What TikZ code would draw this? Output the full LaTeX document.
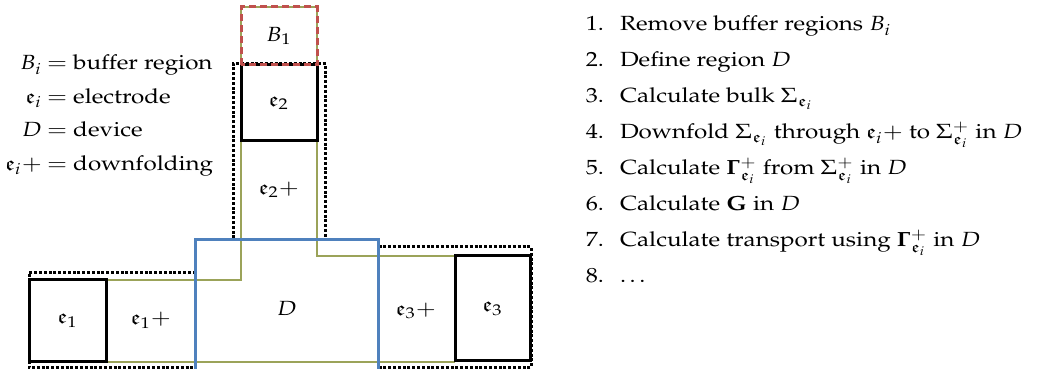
\documentclass[tikz,border=0pt]{standalone}
\usepackage[T1]{fontenc}
\usepackage{amssymb}
\usepackage{mathpazo}
\usepackage{amsmath}
\definecolor{olivec}{RGB}{155,163,89}
\definecolor{blued}{RGB}{79,129,189}
\definecolor{redb}{RGB}{192,80,77}
\newcommand{\fe}{\mathfrak{e}}
\newcommand{\sx}[1]{\scalebox{1.18}[1]{#1}}
\begin{document}
\begin{tikzpicture}[x=0.5pt,y=-0.5pt,
  every node/.style={font=\fontsize{10.25}{12}\selectfont, inner sep=0pt, outer sep=0pt},
  ebox/.style={draw=black, line width=1.5pt, minimum width=#1},
  oliveline/.style={draw=olivec, line width=0.8pt},
  dotline/.style={draw=black, line width=1.5pt, dash pattern=on 1.5pt off 0.9pt},
  redline/.style={draw=redb, line width=1.5pt, dash pattern=on 3.5pt off 2pt},
  devbox/.style={draw=blued, line width=1.5pt},
  lbl/.style={anchor=base west},
  num/.style={anchor=base east}]
\useasboundingbox (0,0) rectangle (1041,369);
% boxes (geometry)
\node[minimum width=38pt, minimum height=29pt] (B1) at (279,36) {\sx{$B_1$}};
\node[ebox=38pt, minimum height=38pt] (e2) at (279,103) {\sx{$\fe_2$}};
\node[ebox=38.25pt, minimum height=41pt] (e1) at (67.75,321) {\sx{$\fe_1$}};
\node[ebox=37.75pt, minimum height=52.5pt] (e3) at (492.75,308.5) {\sx{$\fe_3$}};
% olive downfolding outline
\draw[oliveline] (e1.north east) -- (e1.north east -| B1.west) -- (B1.north west)
  -- (B1.north east) -- (B1.east |- e3.north west) -- (e3.north west);
\draw[oliveline] (e1.south east) -- (e1.south east -| e3.west);
% dotted regions
\node[minimum width=91.5pt, minimum height=68.5pt] (D) at (287,308.5) {\sx{$D$}};
\draw[dotline] (D.west |- 0,273) -- (29,273) -- (29,367.5) -- (D.west |- 0,367.5);
\draw[dotline] (233,238.5) -- (233,64) -- (325.5,64) -- (325.5,238.5);
\draw[dotline] (D.east |- 0,247) -- (531,247) -- (531,367.5) -- (D.east |- 0,367.5);
% redraw electrode boxes on top
\draw[ebox=0pt] (e1.south west) rectangle (e1.north east);
\draw[ebox=0pt] (e2.south west) rectangle (e2.north east);
\draw[ebox=0pt] (e3.south west) rectangle (e3.north east);
\draw[devbox] (D.south west) rectangle (D.north east);
\draw[redline] (B1.south west) rectangle (B1.north east);
% downfolding labels
\node (e1p) at (151,320) {\sx{$\fe_1+$}};
\node (e2p) at (279,190) {\sx{$\fe_2+$}};
\node (e3p) at (416,311) {\sx{$\fe_3+$}};
% legend
\node[num] (l1a) at (42,70) {\sx{$B_i$}};
\node[lbl] (l1b) at (47,70) {\sx{$=$ buffer region}};
\node[num] (l2a) at (42,103.5) {\sx{$\fe_i$}};
\node[lbl] (l2b) at (47,103.5) {\sx{$=$ electrode}};
\node[num] (l3a) at (42,137) {\sx{$D$}};
\node[lbl] (l3b) at (47,137) {\sx{$=$ device}};
\node[num] (l4a) at (42,170.5) {\sx{$\fe_i+$}};
\node[lbl] (l4b) at (47,170.5) {\sx{$=$ downfolding}};
% steps
\node[num] (n1) at (604,31) {\sx{1.}};
\node[lbl] (s1) at (620,31) {\sx{Remove buffer regions $B_i$}};
\node[num] (n2) at (604,67) {\sx{2.}};
\node[lbl] (s2) at (620,67) {\sx{Define region $D$}};
\node[num] (n3) at (604,103) {\sx{3.}};
\node[lbl] (s3) at (620,103) {\sx{Calculate bulk $\Sigma_{\fe_i}$}};
\node[num] (n4) at (604,139) {\sx{4.}};
\node[lbl] (s4) at (620,139) {\sx{Downfold $\Sigma_{\fe_i}$ through $\fe_i+$ to $\Sigma^+_{\fe_i}$ in $D$}};
\node[num] (n5) at (604,175) {\sx{5.}};
\node[lbl] (s5) at (620,175) {\sx{Calculate $\mathbf{\Gamma}^+_{\fe_i}$ from $\Sigma^+_{\fe_i}$ in $D$}};
\node[num] (n6) at (604,211) {\sx{6.}};
\node[lbl] (s6) at (620,211) {\sx{Calculate $\mathbf{G}$ in $D$}};
\node[num] (n7) at (604,247) {\sx{7.}};
\node[lbl] (s7) at (620,247) {\sx{Calculate transport using $\mathbf{\Gamma}^+_{\fe_i}$ in $D$}};
\node[num] (n8) at (604,283) {\sx{8.}};
\node[lbl] (s8) at (620,283) {\sx{\dots}};
\end{tikzpicture}
\end{document}
